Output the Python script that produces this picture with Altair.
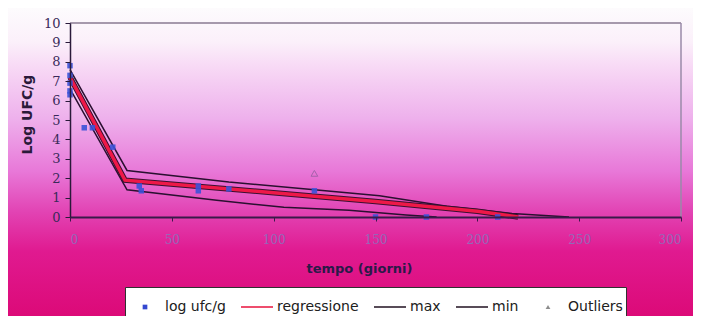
import altair as alt
import pandas as pd

# ---------------- data ----------------
obs_days = [0, 0, 0, 0, 0, 7, 11, 21, 34, 35, 63, 63, 78, 120, 150, 175, 210]
obs_log = [7.8, 7.3, 6.9, 6.5, 6.3, 4.6, 4.6, 3.6, 1.6, 1.35, 1.6, 1.35, 1.45, 1.35, 0.0, 0.0, 0.0]

reg_days = [0, 27, 100, 150, 200, 220]
reg_log = [7.2, 1.9, 1.25, 0.8, 0.3, 0.0]

max_days = [0, 28, 78, 120, 152, 185, 217, 245]
max_log = [7.6, 2.4, 1.8, 1.4, 1.1, 0.55, 0.18, 0.0]

min_days = [0, 28, 72, 105, 137, 165, 180]
min_log = [6.6, 1.4, 0.86, 0.5, 0.35, 0.1, 0.0]

out_days = [120]
out_log = [2.25]

legend_names = ["log ufc/g", "regressione", "max", "min", "Outliers"]
legend_shapes = ["square", "stroke", "stroke", "stroke", "triangle-up"]

x_ticks = [0, 50, 100, 150, 200, 250, 300]
y_ticks = list(range(0, 11))

# ---------------- layout ----------------
W, H = 611, 194
PL, PT, PR, PB = 62, 15, 12, 99

df_obs = pd.DataFrame({"day": obs_days, "val": obs_log})
df_reg = pd.DataFrame({"day": reg_days, "val": reg_log})
df_max = pd.DataFrame({"day": max_days, "val": max_log})
df_min = pd.DataFrame({"day": min_days, "val": min_log})
df_out = pd.DataFrame({"day": out_days, "val": out_log})
df_leg = pd.DataFrame({"series": legend_names})
df_one = pd.DataFrame({"a": [0]})

xenc = alt.X(
    "day:Q",
    scale=alt.Scale(domain=[0, 300], nice=False, zero=False),
    axis=alt.Axis(
        values=x_ticks,
        title="tempo (giorni)",
        grid=False,
        zindex=2,
        domainColor="#3a1a4a",
        domainWidth=2,
        tickColor="#3a1a4a",
        tickSize=4,
        labelColor="#9468b8",
        labelFont="DejaVu Serif",
        labelFontSize=12,
        labelPadding=13,
        titleColor="#2a1a48",
        titleFont="DejaVu Sans",
        titleFontSize=13,
        titleFontWeight="bold",
        titleX=289,
        titleY=51,
        titleBaseline="middle",
    ),
)
yenc = alt.Y(
    "val:Q",
    scale=alt.Scale(domain=[0, 10], nice=False),
    axis=alt.Axis(
        values=y_ticks,
        title="Log UFC/g",
        grid=False,
        zindex=2,
        domainColor="#2a1a3a",
        domainWidth=1.5,
        tickColor="#2a1a3a",
        tickSize=5,
        labelColor="#3a2a5a",
        labelFont="DejaVu Serif",
        labelFontSize=13,
        labelPadding=5,
        titleColor="#2a1a3a",
        titleFont="DejaVu Sans",
        titleFontSize=14,
        titleFontWeight="bold",
        titleX=-43,
        titleY=91,
        titleAngle=270,
        titleAlign="center",
        titleBaseline="middle",
    ),
)

grad = alt.Gradient(
    gradient="linear",
    stops=[
        alt.GradientStop(offset=0.0, color="#fdfbfd"),
        alt.GradientStop(offset=0.11, color="#fbf0fa"),
        alt.GradientStop(offset=0.18, color="#f8dcf6"),
        alt.GradientStop(offset=0.36, color="#eeb0ec"),
        alt.GradientStop(offset=0.53, color="#e878d8"),
        alt.GradientStop(offset=0.66, color="#e244b4"),
        alt.GradientStop(offset=0.79, color="#e01a90"),
        alt.GradientStop(offset=1.0, color="#dc0a78"),
    ],
    x1=0, x2=0, y1=0, y2=1,
)

bg = alt.Chart(df_one).mark_rect(fill=grad).encode(
    x=alt.value(-PL), x2=alt.value(W + PR), y=alt.value(-PT), y2=alt.value(H + PB)
)

# plot-area frame (top and right edges)
frame_top = alt.Chart(df_one).mark_rule(color="#8a7a92", strokeWidth=1.5).encode(
    x=alt.value(0), x2=alt.value(W), y=alt.value(0)
)
frame_right = alt.Chart(df_one).mark_rule(color="#9a8aa8", strokeWidth=1.5).encode(
    x=alt.value(W), y=alt.value(0), y2=alt.value(H)
)

line_max = alt.Chart(df_max).mark_line(color="#2a1030", strokeWidth=1.5).encode(x=xenc, y=yenc)
line_min = alt.Chart(df_min).mark_line(color="#2a1030", strokeWidth=1.5).encode(x=xenc, y=yenc)
reg_dark = alt.Chart(df_reg).mark_line(color="#3a1030", strokeWidth=5.5).encode(x=xenc, y=yenc)
reg_red = alt.Chart(df_reg).mark_line(color="#ee1848", strokeWidth=3.5).encode(x=xenc, y=yenc)
pts = alt.Chart(df_obs).mark_point(shape="square", filled=True, size=30, color="#3a52d8", opacity=0.9).encode(x=xenc, y=yenc)
outl = alt.Chart(df_out).mark_point(shape="triangle-up", filled=False, size=45, color="#8a5a9a", strokeWidth=1).encode(x=xenc, y=yenc)

sym_fill = "datum.value == 'log ufc/g' ? '#3448d0' : (datum.value == 'Outliers' ? '#8c8c8c' : 'transparent')"
sym_stroke = "datum.value == 'regressione' ? '#e8123c' : ((datum.value == 'max' || datum.value == 'min') ? '#201020' : 'transparent')"
sym_sw = "datum.value == 'regressione' ? 2.5 : 1.2"
sym_size = "(datum.value == 'log ufc/g' || datum.value == 'Outliers') ? 22 : 1024"

leg = alt.Chart(df_leg).mark_point(
    filled=True,
    fill=alt.ExprRef(expr=sym_fill),
    stroke=alt.ExprRef(expr=sym_stroke),
    strokeWidth=alt.ExprRef(expr=sym_sw),
).encode(
    x=alt.value(-3000),
    y=alt.value(-3000),
    shape=alt.Shape(
        "series:N",
        scale=alt.Scale(domain=legend_names, range=legend_shapes),
        legend=alt.Legend(
            title=None,
            orient="none",
            legendX=55,
            legendY=264,
            direction="horizontal",
            fillColor="white",
            strokeColor="#303030",
            padding=3,
            symbolSize=alt.ExprRef(expr=sym_size),
            symbolOpacity=1,
            labelOffset=3,
            columnPadding=12,
            labelFont="DejaVu Sans",
            labelFontSize=14,
            labelColor="#202020",
        ),
    ),
)

chart = (
    alt.layer(bg, frame_top, frame_right, line_max, line_min, reg_dark, reg_red, pts, outl, leg)
    .properties(
        width=W,
        height=H,
        autosize=alt.AutoSizeParams(type="none"),
        padding={"left": PL, "top": PT, "right": PR, "bottom": PB},
        background="white",
    )
    .configure_view(stroke=None)
)

chart.save("out.html", embed_options={"renderer": "svg", "actions": False})
